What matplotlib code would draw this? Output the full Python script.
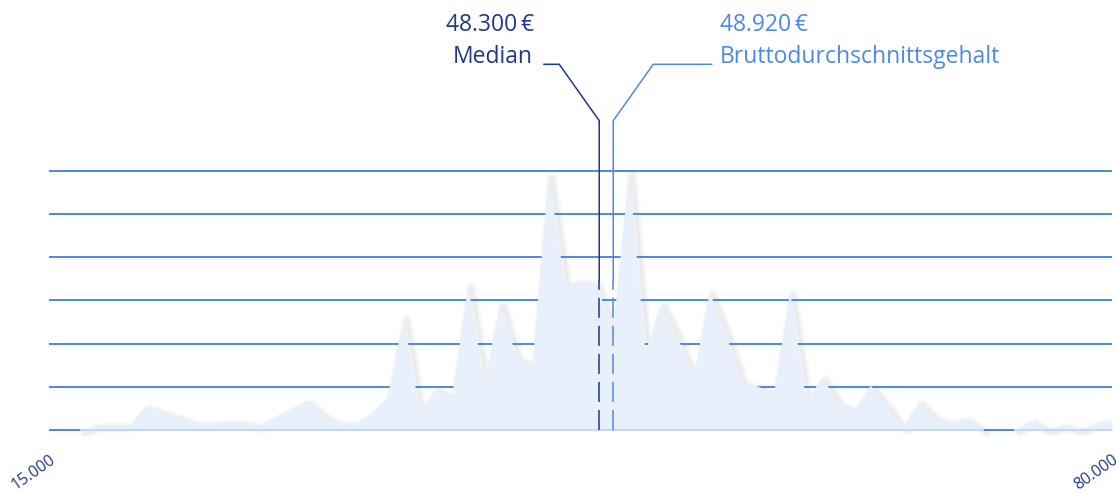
import numpy as np
import matplotlib
matplotlib.use("Agg")
import matplotlib.pyplot as plt
from matplotlib.transforms import ScaledTranslation

plt.rcParams['font.family'] = ['Open Sans', 'DejaVu Sans']
plt.rcParams['lines.scale_dashes'] = False

# salary distribution (share per salary bin)
x_labels = ['15.000', '80.000']
share = [0, 0, 0, 0.12, 0.12, 0.12, 0.56, 0.42, 0.30, 0.17,
         0.17, 0.19, 0.19, 0.10, 0.30, 0.49, 0.69, 0.35, 0.16, 0.17,
         0.39, 0.77, 2.62, 0.39, 0.97, 0.77, 3.36, 1.09, 2.94, 1.70,
         1.51, 5.91, 3.38, 3.46, 3.36, 2.28, 5.98, 1.81, 2.93, 2.16,
         1.23, 3.20, 2.25, 1.12, 1.02, 0.85, 3.20, 0.66, 1.23, 0.63,
         0.46, 1.04, 0.58, 0.06, 0.66, 0.29, 0.19, 0.27, 0, 0,
         0, 0.23, 0, 0.12, 0, 0.17, 0.22]

median_label = '48.300\u2009€'
mean_label = '48.920\u2009€'
# where the chart draws the two markers (bin position)
median_pos = 34.17
mean_pos = 35.04

NAVY = '#21378a'
LIGHT = '#4a8ae6'
GRID = '#3d7fe0'
FILL = '#e8f0fb'

W, H = 1116, 492
fig = plt.figure(figsize=(W / 100, H / 100), dpi=100)
x0, x1 = 49.1, 1111.7          # pixel span of the bins
y_base, y_unit = 430, 43.17    # baseline pixel, pixels per grid step
margin = 6                     # px below the baseline so it is not clipped
ax = fig.add_axes([x0 / W, (H - y_base - margin) / H, (x1 - x0) / W,
                   (y_base + margin) / H])

vals = np.array(share, dtype=float)
k = np.arange(len(vals))
ax.set_xlim(0, len(vals) - 1)
ax.set_ylim(-margin / y_unit, y_base / y_unit)

# px -> data helpers for the annotation geometry
sx = (len(vals) - 1) / (x1 - x0)
def ypx(p):
    return (y_base - p) / y_unit

# grid
ax.set_yticks(range(7))
ax.grid(axis='y', color=GRID, lw=1.3, zorder=0)
ax.tick_params(axis='y', left=False, labelleft=False)
for s in ax.spines.values():
    s.set_visible(False)

# where the area is above zero (incl. the points where it touches down)
nz = vals > 0
seg = nz | np.r_[nz[1:], False] | np.r_[False, nz[:-1]]

# soft drop shadow under the area outline
shadow = ax.transData + ScaledTranslation(4 / 100, -3 / 100, fig.dpi_scale_trans)
outline = np.ma.masked_where(~seg, vals)
for lw, a in [(8, 0.018), (6, 0.022), (4, 0.028), (2.5, 0.035)]:
    ax.plot(k, outline, color='#555555', lw=lw, alpha=a, transform=shadow,
            solid_joinstyle='round', zorder=1)

ax.fill_between(k, vals, 0, color=FILL, lw=0, zorder=3)

base = np.ma.masked_where(~seg, np.zeros(len(vals)))
ax.plot(k, base, color='#c6d8f4', lw=1.4, zorder=4)

# x tick labels only at the ends
ax.set_xticks([0, len(vals) - 1])
ax.set_xticklabels(x_labels, rotation=35, ha='right', rotation_mode='anchor',
                   color=NAVY, fontsize=11.5)
ax.tick_params(axis='x', length=0, pad=11)

# median / mean markers
brk = 3.45
for pos, col, side, lab, name in [
        (median_pos, NAVY, -1, median_label, 'Median'),
        (mean_pos, LIGHT, 1, mean_label, 'Bruttodurchschnittsgehalt')]:
    ax.plot([pos, pos], [0, brk], color=col, lw=1.1, dashes=[14.4, 5.8],
            zorder=5, clip_on=False)
    if side < 0:
        hx = [pos, pos, pos - 40 * sx, pos - 55.3 * sx]
    else:
        hx = [pos, pos, pos + 40 * sx, pos + 98.4 * sx]
    ax.plot(hx, [brk, ypx(120.7), ypx(64.3), ypx(64.3)], color=col, lw=1.1,
            zorder=5, clip_on=False)
    if side < 0:
        ax.text(pos - 65 * sx, ypx(25), lab, color=col, fontsize=16.5,
                ha='right', va='center', clip_on=False)
        ax.text(pos - 66 * sx, ypx(57), name, color=col, fontsize=16.5,
                ha='right', va='center', clip_on=False)
    else:
        ax.text(pos + 107 * sx, ypx(25), lab, color=col, fontsize=16.5,
                ha='left', va='center', clip_on=False)
        ax.text(pos + 107 * sx, ypx(57), name, color=col, fontsize=16.5,
                ha='left', va='center', clip_on=False)

fig.savefig('out.png', dpi=100)
